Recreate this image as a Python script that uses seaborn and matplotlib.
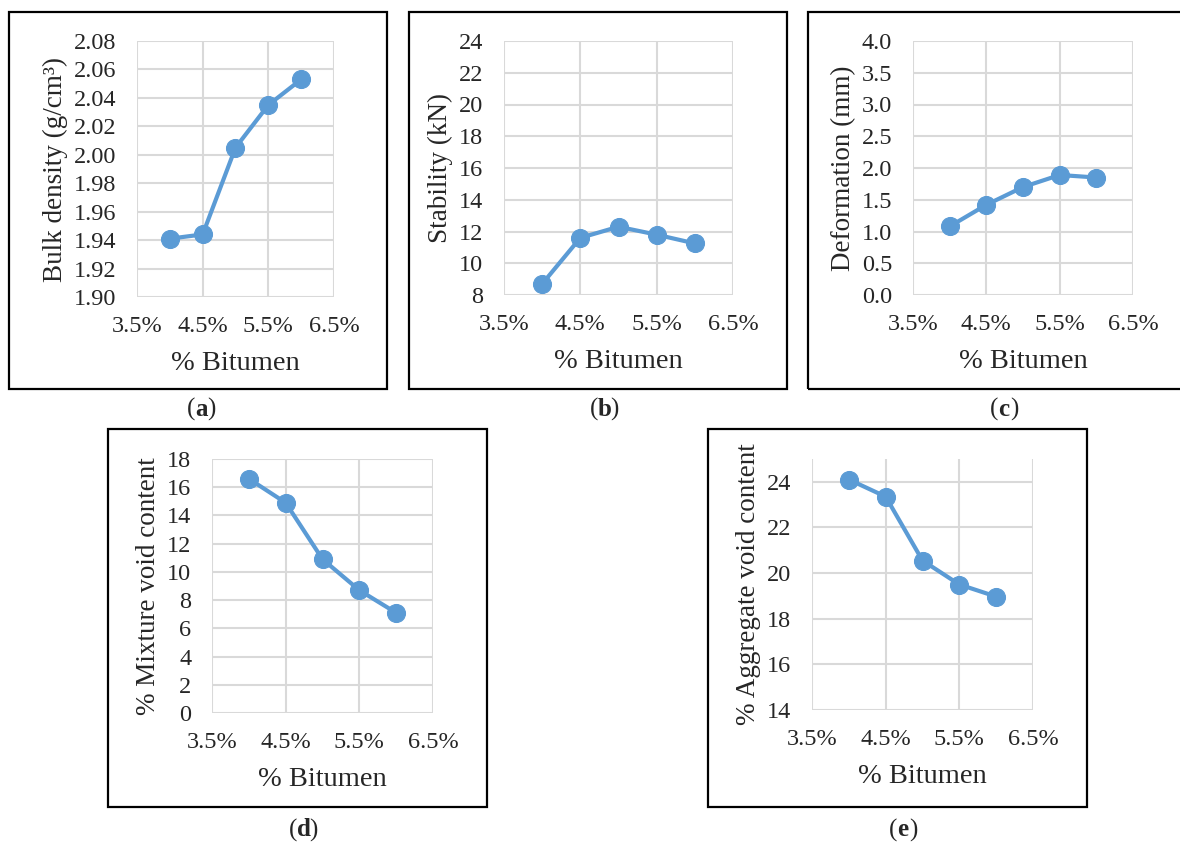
import numpy as np
import pandas as pd
import matplotlib
matplotlib.use('Agg')
import matplotlib.pyplot as plt
import seaborn as sns
from matplotlib.patches import Rectangle
from matplotlib.ticker import FuncFormatter

# datos
bitumen = [0.040, 0.045, 0.050, 0.055, 0.060]
bulk_density = [1.941, 1.944, 2.005, 2.035, 2.053]
stability = [8.7, 11.6, 12.3, 11.8, 11.25]
deformation = [1.08, 1.42, 1.70, 1.89, 1.85]
mixture_voids = [16.6, 14.9, 10.9, 8.7, 7.1]
aggregate_voids = [24.1, 23.35, 20.55, 19.5, 18.97]

x_ticks = [0.035, 0.045, 0.055, 0.065]

sns.set_style('white')
plt.rcParams['font.family'] = ['Liberation Serif', 'DejaVu Serif']

azul = '#5B9BD5'
gris = '#D9D9D9'

W, H = 1180, 843
fig = plt.figure(figsize=(W / 100, H / 100), dpi=100)


def px_axes(x0, y0, x1, y1):
    return fig.add_axes([x0 / W, 1 - y1 / H, (x1 - x0) / W, (y1 - y0) / H])


def px_box(x0, y0, x1, y1):
    fig.patches.append(Rectangle((x0 / W, 1 - y1 / H), (x1 - x0) / W, (y1 - y0) / H,
                                 transform=fig.transFigure, fill=False,
                                 edgecolor='black', linewidth=1.6))


paneles = [
    # (valores, etiqueta y, ylim, yticks, formato, eje px, caja px, letra px)
    (bulk_density, 'Bulk density (g/cm³)', (1.90, 2.08), np.arange(1.90, 2.081, 0.02), '{:.2f}',
     (137, 41, 334, 297), (9, 12, 387, 389), (195, 409), 'a'),
    (stability, 'Stability (kN)', (8, 24), np.arange(8, 25, 2), '{:.0f}',
     (504, 41, 733, 295), (409, 12, 787, 389), (598, 409), 'b'),
    (deformation, 'Deformation (mm)', (0, 4), np.arange(0, 4.01, 0.5), '{:.1f}',
     (913, 41, 1133, 295), (808, 12, 1190, 389), (998, 409), 'c'),
    (mixture_voids, '% Mixture void content', (0, 18), np.arange(0, 19, 2), '{:.0f}',
     (212, 459, 433, 713), (108, 429, 487, 807), (297, 830), 'd'),
    (aggregate_voids, '% Aggregate void content', (14, 25), np.arange(14, 25, 2), '{:.0f}',
     (812, 459, 1033, 710), (708, 429, 1087, 807), (897, 830), 'e'),
]

for vals, ylab, ylim, yticks, fmt, ax_px, box_px, let_px, letra in paneles:
    ax = px_axes(*ax_px)
    df = pd.DataFrame({'x': bitumen, 'y': vals})
    sns.lineplot(data=df, x='x', y='y', ax=ax, color=azul, linewidth=3,
                 marker='o', markersize=13, markeredgecolor=azul)
    ax.set_xlim(0.035, 0.065)
    ax.set_ylim(*ylim)
    ax.set_xticks(x_ticks)
    ax.set_yticks(yticks)
    ax.xaxis.set_major_formatter(FuncFormatter(lambda v, p: '{:.1f}%'.format(v * 100)))
    ax.set_yticklabels([fmt.format(t) for t in yticks])
    ax.grid(True, color=gris, linewidth=1.5)
    ax.set_axisbelow(True)
    for s in ax.spines.values():
        s.set_visible(False)
    ax.tick_params(length=0, labelsize=17.5)
    ax.tick_params(axis='y', pad=15)
    ax.tick_params(axis='x', pad=14)
    ax.set_xlabel('% Bitumen', fontsize=20.5, labelpad=10)
    ax.set_ylabel(ylab, fontsize=19.5, labelpad=4)
    px_box(*box_px)
    fig.text(let_px[0] / W, 1 - let_px[1] / H, '(', fontsize=18, ha='right', va='center')
    fig.text(let_px[0] / W, 1 - let_px[1] / H, letra, fontsize=18, fontweight='bold',
             ha='left', va='center')
    fig.text(let_px[0] / W + 0.0105, 1 - let_px[1] / H, ')', fontsize=18, ha='left', va='center')

fig.savefig('out.png', dpi=100, facecolor='white')
